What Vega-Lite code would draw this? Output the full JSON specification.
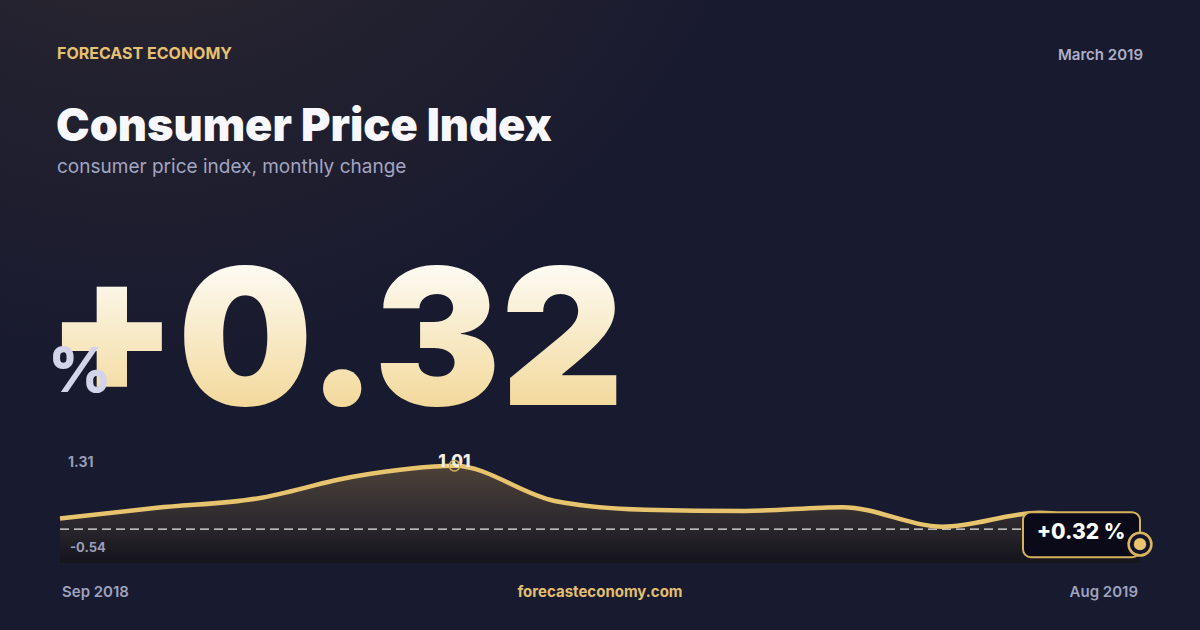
{
  "$schema": "https://vega.github.io/schema/vega-lite/v6.json",
  "width": 1200,
  "height": 630,
  "autosize": {"type": "fit", "contains": "padding"},
  "padding": 0,
  "background": "#171a2e",
  "view": {
    "stroke": null,
    "fill": {
      "gradient": "radial",
      "x1": 0.12, "y1": 0.0, "r1": 0,
      "x2": 0.12, "y2": 0.0, "r2": 0.55,
      "stops": [
        {"offset": 0, "color": "#3d3530"},
        {"offset": 0.5, "color": "#24222f"},
        {"offset": 1, "color": "#181a2f"}
      ]
    }
  },
  "data": {
    "values": [
      {"date": "2018-09-01", "v": 0.17},
      {"date": "2018-10-01", "v": 0.34},
      {"date": "2018-11-01", "v": 0.49},
      {"date": "2018-12-01", "v": 0.84},
      {"date": "2019-01-01", "v": 1.01},
      {"date": "2019-02-01", "v": 0.45},
      {"date": "2019-03-01", "v": 0.31},
      {"date": "2019-04-01", "v": 0.29},
      {"date": "2019-05-01", "v": 0.35},
      {"date": "2019-06-01", "v": 0.04},
      {"date": "2019-07-01", "v": 0.26},
      {"date": "2019-08-01", "v": -0.24}
    ]
  },
  "layer": [
    {
      "mark": {
        "type": "area",
        "interpolate": "monotone",
        "fill": {
          "gradient": "linear", "x1": 0, "y1": 0, "x2": 0, "y2": 1,
          "stops": [
            {"offset": 0, "color": "#4e4238"},
            {"offset": 0.55, "color": "#2e2a30"},
            {"offset": 1, "color": "#15141c"}
          ]
        }
      },
      "encoding": {
        "x": {"field": "date", "type": "temporal", "axis": null, "scale": {"range": [60, 1140], "nice": false}},
        "y": {"field": "v", "type": "quantitative", "axis": null, "scale": {"domain": [-0.54, 1.31], "range": [563, 447], "nice": false, "zero": false}},
        "y2": {"datum": -0.54}
      }
    },
    {
      "mark": {"type": "rule", "stroke": "#ffffff", "strokeOpacity": 0.9, "strokeWidth": 1.4, "strokeDash": [9, 5]},
      "encoding": {
        "x": {"aggregate": "min", "field": "date", "type": "temporal", "axis": null},
        "x2": {"aggregate": "max", "field": "date"},
        "y": {"datum": 0, "type": "quantitative", "axis": null}
      }
    },
    {
      "mark": {"type": "line", "interpolate": "monotone", "stroke": "#e8c46e", "strokeWidth": 4.5},
      "encoding": {
        "x": {"field": "date", "type": "temporal", "axis": null},
        "y": {"field": "v", "type": "quantitative", "axis": null}
      }
    },
    {
      "transform": [{"filter": "datum.v == 1.01"}],
      "mark": {"type": "text", "align": "center", "baseline": "alphabetic", "dy": 1, "font": "Inter", "fontSize": 17, "fontWeight": 800, "fill": "#f3efe6"},
      "encoding": {
        "x": {"field": "date", "type": "temporal", "axis": null},
        "y": {"field": "v", "type": "quantitative", "axis": null},
        "text": {"field": "v", "type": "quantitative", "format": ".2f"}
      }
    },
    {
      "transform": [{"filter": "datum.v == 1.01"}],
      "mark": {"type": "point", "filled": false, "stroke": "#d9b25c", "strokeWidth": 1.5, "size": 110, "opacity": 1},
      "encoding": {
        "x": {"field": "date", "type": "temporal", "axis": null},
        "y": {"field": "v", "type": "quantitative", "axis": null}
      }
    },
    {
      "mark": {"type": "text", "align": "left", "baseline": "alphabetic", "dx": 8, "dy": 20, "font": "Inter", "fontSize": 14, "fontWeight": 700, "fill": "#9a9db8", "text": "1.31"},
      "encoding": {
        "x": {"aggregate": "min", "field": "date", "type": "temporal", "axis": null},
        "y": {"datum": 1.31, "type": "quantitative", "axis": null}
      }
    },
    {
      "mark": {"type": "text", "align": "left", "baseline": "alphabetic", "dx": 10, "dy": -11, "font": "Inter", "fontSize": 13, "fontWeight": 700, "fill": "#9a9db8", "text": "-0.54"},
      "encoding": {
        "x": {"aggregate": "min", "field": "date", "type": "temporal", "axis": null},
        "y": {"datum": -0.54, "type": "quantitative", "axis": null}
      }
    },
    {
      "transform": [{"filter": "datum.v == -0.24"}],
      "mark": {"type": "rect", "cornerRadius": 8, "fill": "#0a0a18", "stroke": "#d6b15c", "strokeWidth": 2, "xOffset": -117, "yOffset": -32, "y2Offset": 13},
      "encoding": {
        "x": {"field": "date", "type": "temporal", "axis": null},
        "x2": {"field": "date"},
        "y": {"field": "v", "type": "quantitative", "axis": null},
        "y2": {"field": "v"}
      }
    },
    {
      "transform": [{"filter": "datum.v == -0.24"}],
      "mark": {"type": "text", "align": "center", "baseline": "alphabetic", "dx": -59, "dy": -5, "font": "Inter", "fontSize": 21, "fontWeight": 800, "fill": "#ffffff", "text": "+0.32 %"},
      "encoding": {
        "x": {"field": "date", "type": "temporal", "axis": null},
        "y": {"field": "v", "type": "quantitative", "axis": null}
      }
    },
    {
      "transform": [{"filter": "datum.v == -0.24"}],
      "mark": {"type": "point", "shape": "circle", "filled": true, "fill": "#14142a", "stroke": "#dcb65f", "strokeWidth": 2.5, "size": 520, "opacity": 1},
      "encoding": {
        "x": {"field": "date", "type": "temporal", "axis": null},
        "y": {"field": "v", "type": "quantitative", "axis": null}
      }
    },
    {
      "transform": [{"filter": "datum.v == -0.24"}],
      "mark": {"type": "point", "shape": "circle", "filled": true, "fill": "#e8c46e", "strokeWidth": 0, "size": 150, "opacity": 1},
      "encoding": {
        "x": {"field": "date", "type": "temporal", "axis": null},
        "y": {"field": "v", "type": "quantitative", "axis": null}
      }
    },
    {
      "mark": {"type": "text", "align": "left", "baseline": "alphabetic", "dx": 2, "font": "Inter", "fontSize": 15, "fontWeight": 600, "fill": "#9fa2bf", "text": "Sep 2018"},
      "encoding": {"x": {"aggregate": "min", "field": "date", "type": "temporal", "axis": null}, "y": {"value": 597}}
    },
    {
      "mark": {"type": "text", "align": "right", "baseline": "alphabetic", "dx": -2, "font": "Inter", "fontSize": 15, "fontWeight": 600, "fill": "#9fa2bf", "text": "Aug 2019"},
      "encoding": {"x": {"aggregate": "max", "field": "date", "type": "temporal", "axis": null}, "y": {"value": 597}}
    },
    {
      "data": {"values": [{}]},
      "mark": {"type": "text", "align": "center", "baseline": "alphabetic", "font": "Inter", "fontSize": 15, "fontWeight": 700, "fill": "#e3bf6f", "text": "forecasteconomy.com"},
      "encoding": {"x": {"value": 600}, "y": {"value": 597}}
    },
    {
      "data": {"values": [{}]},
      "mark": {"type": "text", "align": "left", "baseline": "alphabetic", "font": "Inter", "fontSize": 16, "fontWeight": 700, "fill": "#e6c171", "text": "FORECAST ECONOMY"},
      "encoding": {"x": {"value": 57}, "y": {"value": 59}}
    },
    {
      "data": {"values": [{}]},
      "mark": {"type": "text", "align": "right", "baseline": "alphabetic", "font": "Inter", "fontSize": 15, "fontWeight": 600, "fill": "#aeb0c8", "text": "March 2019"},
      "encoding": {"x": {"value": 1143}, "y": {"value": 60}}
    },
    {
      "data": {"values": [{}]},
      "mark": {"type": "text", "align": "left", "baseline": "alphabetic", "font": "Inter", "fontSize": 45, "fontWeight": 900, "fill": "#f8f8fc", "text": "Consumer Price Index"},
      "encoding": {"x": {"value": 56}, "y": {"value": 141}}
    },
    {
      "data": {"values": [{}]},
      "mark": {"type": "text", "align": "left", "baseline": "alphabetic", "font": "Inter", "fontSize": 19, "fontWeight": 400, "fill": "#a3a5c2", "text": "consumer price index, monthly change"},
      "encoding": {"x": {"value": 57}, "y": {"value": 173}}
    },
    {
      "data": {"values": [{}]},
      "mark": {
        "type": "text", "align": "left", "baseline": "alphabetic", "font": "Inter", "fontSize": 190, "fontWeight": 900, "text": "+0.32",
        "fill": {
          "gradient": "linear", "x1": 0, "y1": 0, "x2": 0, "y2": 1,
          "stops": [
            {"offset": 0.15, "color": "#fefdf9"},
            {"offset": 0.8, "color": "#f3d99c"}
          ]
        }
      },
      "encoding": {"x": {"value": 46}, "y": {"value": 405}}
    },
    {
      "data": {"values": [{}]},
      "mark": {"type": "text", "align": "left", "baseline": "alphabetic", "font": "Inter", "fontSize": 62, "fontWeight": 800, "fill": "#d1d4ea", "text": "%"},
      "encoding": {"x": {"value": 48}, "y": {"value": 392}}
    }
  ]
}
